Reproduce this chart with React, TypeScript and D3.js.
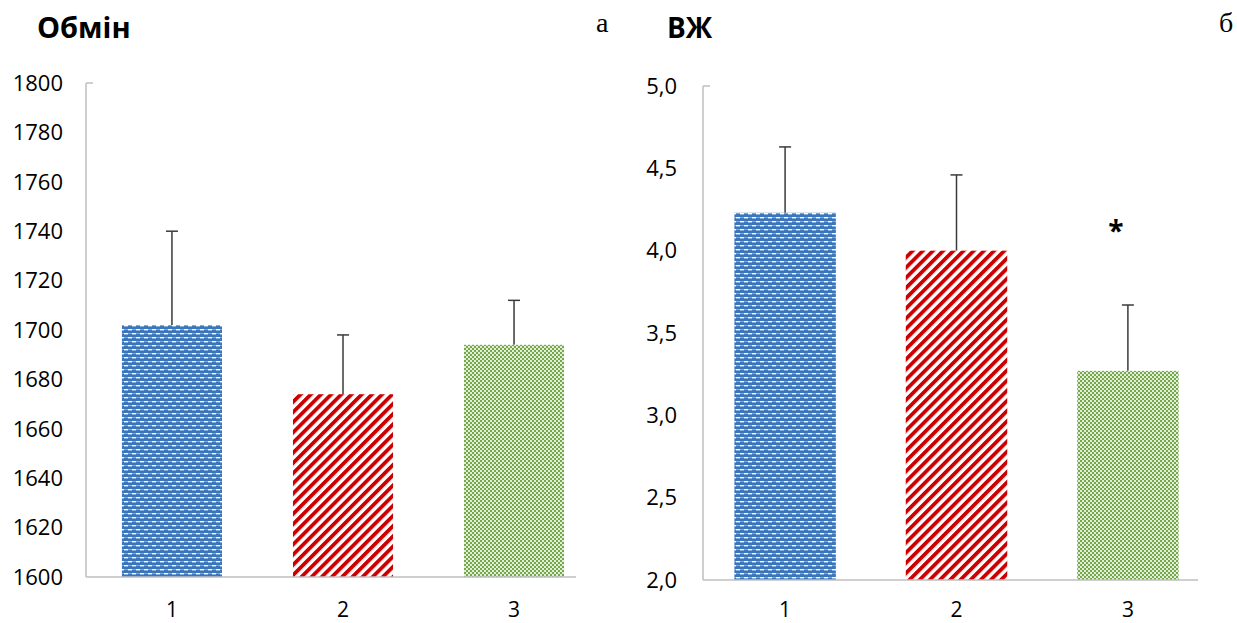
import React from "react";
import * as d3 from "d3";

const categories = ["1", "2", "3"];
const obminValues = [1702, 1674, 1694];
const obminErrors = [1740, 1698, 1712];
const obminTicks = [1600, 1620, 1640, 1660, 1680, 1700, 1720, 1740, 1760, 1780, 1800];
const vzhValues = [4.23, 4.0, 3.27];
const vzhErrors = [4.63, 4.46, 3.67];
const vzhTicks = [2.0, 2.5, 3.0, 3.5, 4.0, 4.5, 5.0];
const vzhStars = ["", "", "*"];
const patterns = ["pBlue", "pRed", "pGreen"];

const W = 1237;
const H = 623;
const FONT = "'Open Sans', 'Noto Sans', sans-serif";

type PanelProps = {
  x0: number;
  x1: number;
  axisEnd: number;
  yTop: number;
  yBottom: number;
  domain: [number, number];
  ticks: number[];
  fmt: (v: number) => string;
  values: number[];
  errors: number[];
  stars?: string[];
  po: number;
  pi: number;
  labelRight: number;
};

function Panel(p: PanelProps) {
  const x = d3
    .scaleBand<string>()
    .domain(categories)
    .range([p.x0, p.x1])
    .paddingInner(p.pi)
    .paddingOuter(p.po);
  const y = d3.scaleLinear().domain(p.domain).range([p.yBottom, p.yTop]);
  const bw = x.bandwidth();
  return (
    <g>
      {p.ticks.map((t) => (
        <text
          key={t}
          x={p.labelRight}
          y={y(t)}
          dy="0.35em"
          textAnchor="end"
          fontFamily={FONT}
          fontSize={22}
          fill="#000"
        >
          {p.fmt(t)}
        </text>
      ))}
      {categories.map((c, i) => {
        const cx = (x(c) as number) + bw / 2;
        return (
          <g key={c}>
            <line
              x1={cx}
              x2={cx}
              y1={y(p.values[i])}
              y2={y(p.errors[i])}
              stroke="#3a3a3a"
              strokeWidth={1.5}
            />
            <line
              x1={cx - 6}
              x2={cx + 6}
              y1={y(p.errors[i])}
              y2={y(p.errors[i])}
              stroke="#3a3a3a"
              strokeWidth={1.5}
            />
            <rect
              x={x(c)}
              y={y(p.values[i])}
              width={bw}
              height={y(p.domain[0]) - y(p.values[i])}
              fill={`url(#${patterns[i]})`}
            />
            <text
              x={cx}
              y={617}
              textAnchor="middle"
              fontFamily={FONT}
              fontSize={21}
              fill="#000"
            >
              {c}
            </text>
            {p.stars && p.stars[i] ? (
              <text
                x={cx - 12}
                y={y(p.errors[i]) - 84}
                dy="0.7em"
                textAnchor="middle"
                fontFamily={FONT}
                fontWeight="bold"
                fontSize={28}
                fill="#000"
              >
                {p.stars[i]}
              </text>
            ) : null}
          </g>
        );
      })}
      <line x1={p.x0} x2={p.x0} y1={p.yTop} y2={p.yBottom} stroke="#bfbfbf" strokeWidth={1.5} />
      <line x1={p.x0} x2={p.x0 + 7} y1={p.yTop} y2={p.yTop} stroke="#bfbfbf" strokeWidth={1.5} />
      <line x1={p.x0} x2={p.axisEnd} y1={p.yBottom} y2={p.yBottom} stroke="#bfbfbf" strokeWidth={1.5} />
    </g>
  );
}

export default function App() {
  const fmtComma = (v: number) => d3.format(".1f")(v).replace(".", ",");
  return (
    <svg width={W} height={H} style={{ display: "block", position: "absolute", left: 0, top: 0 }}>
      <defs>
        <pattern id="pBlue" width={8} height={8} patternUnits="userSpaceOnUse">
          <rect width={8} height={8} fill="#3c76ba" />
          <rect x={0} y={1} width={4} height={1.4} fill="#ffffff" />
          <rect x={4} y={5} width={4} height={1.4} fill="#ffffff" />
          <rect x={4} y={1} width={4} height={1} fill="#7fa6d6" />
          <rect x={0} y={5} width={4} height={1} fill="#7fa6d6" />
        </pattern>
        <pattern
          id="pRed"
          width={7.2}
          height={10}
          patternUnits="userSpaceOnUse"
          patternTransform="rotate(45)"
        >
          <rect width={7.2} height={10} fill="#ffffff" />
          <rect x={0} y={0} width={3.8} height={10} fill="#cc0000" />
        </pattern>
        <pattern id="pGreen" width={4} height={4} patternUnits="userSpaceOnUse">
          <rect width={4} height={4} fill="#e3eed9" />
          <rect x={0} y={0} width={2} height={2} fill="#74a84a" />
          <rect x={2} y={2} width={2} height={2} fill="#74a84a" />
        </pattern>
      </defs>
      <rect width={W} height={H} fill="#fff" />
      <text x={37} y={28} dy="0.35em" fontFamily={FONT} fontWeight="bold" fontSize={29}>
        Обмін
      </text>
      <text x={596} y={22} dy="0.35em" fontFamily="'Liberation Serif', serif" fontSize={28}>
        а
      </text>
      <text x={667} y={28} dy="0.35em" fontFamily={FONT} fontWeight="bold" fontSize={28}>
        ВЖ
      </text>
      <text x={1219} y={22} dy="0.35em" fontFamily="'Liberation Serif', serif" fontSize={28}>
        б
      </text>
      <Panel
        x0={86}
        x1={600}
        axisEnd={576}
        yTop={83}
        yBottom={577}
        domain={[1600, 1800]}
        ticks={obminTicks}
        fmt={(v) => String(v)}
        values={obminValues}
        errors={obminErrors}
        po={0.21}
        pi={0.415}
        labelRight={63}
      />
      <Panel
        x0={703}
        x1={1210}
        axisEnd={1198}
        yTop={86}
        yBottom={580}
        domain={[2, 5]}
        ticks={vzhTicks}
        fmt={fmtComma}
        values={vzhValues}
        errors={vzhErrors}
        stars={vzhStars}
        po={0.183}
        pi={0.408}
        labelRight={677}
      />
    </svg>
  );
}
